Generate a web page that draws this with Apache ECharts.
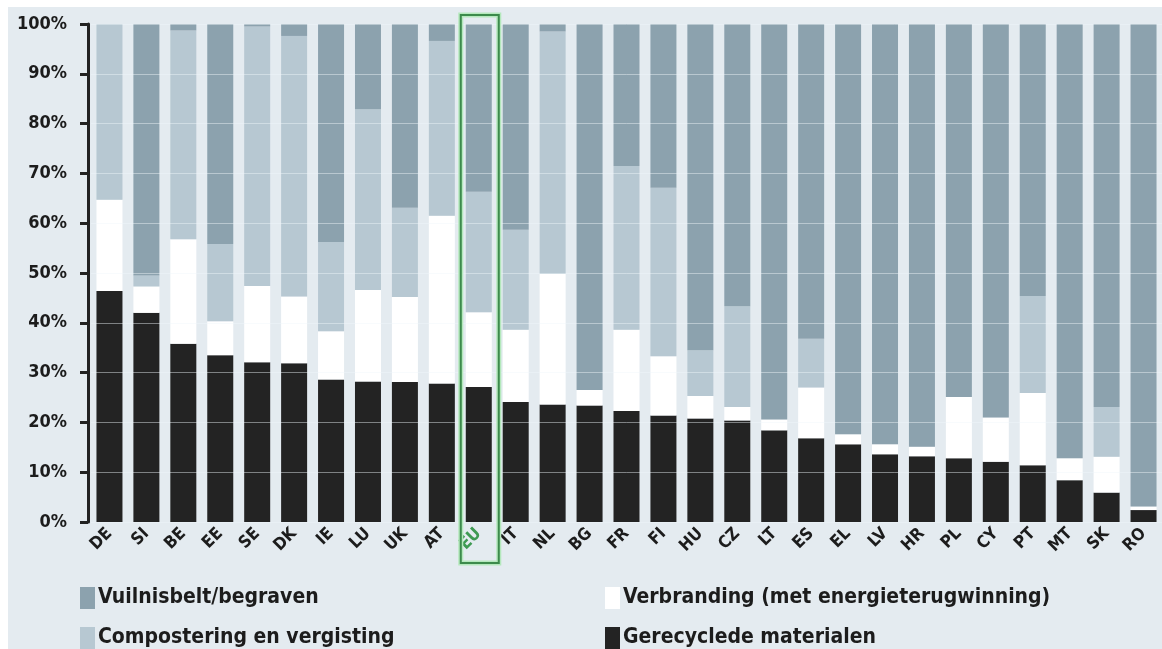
<!DOCTYPE html>
<html>
<head>
<meta charset="utf-8">
<script src="https://cdn.jsdelivr.net/npm/echarts@6/dist/echarts.min.js"></script>
<style>
html,body{margin:0;padding:0;background:#ffffff;}
#chart{width:1162px;height:649px;}
</style>
</head>
<body>
<div id="chart"></div>
<script>
const categories = ['DE','SI','BE','EE','SE','DK','IE','LU','UK','AT','EU','IT','NL','BG','FR','FI','HU','CZ','LT','ES','EL','LV','HR','PL','CY','PT','MT','SK','RO'];
const recycled     = [46.4,42.0,35.8,33.5,32.1,31.9,28.6,28.2,28.1,27.8,27.1,24.1,23.6,23.4,22.3,21.4,20.8,20.4,18.4,16.8,15.6,13.6,13.2,12.8,12.1,11.4,8.4,5.9,2.4];
const incineration = [18.3,5.3,21.0,6.8,15.3,13.4,9.7,18.4,17.1,33.7,15.0,14.5,26.2,3.1,16.3,11.9,4.5,2.7,2.2,10.2,2.0,2.0,1.9,12.3,8.9,14.5,4.4,7.2,0.7];
const compost      = [35.3,2.2,41.9,15.5,52.1,52.3,17.9,36.3,17.9,35.1,24.2,20.1,48.7,0,32.9,33.8,9.2,20.2,0,9.8,0,0,0,0,0,19.5,0,10.0,0];
const landfill     = [0,50.5,1.3,44.2,0.5,2.4,43.8,17.1,36.9,3.4,33.7,41.3,1.5,73.5,28.5,32.9,65.5,56.7,79.4,63.2,82.4,84.4,84.9,74.9,79.0,54.6,87.2,76.9,96.9];
const yTicks = [0,10,20,30,40,50,60,70,80,90,100];
const names = {
  landfill: 'Vuilnisbelt/begraven',
  incineration: 'Verbranding (met energieterugwinning)',
  compost: 'Compostering en vergisting',
  recycled: 'Gerecyclede materialen'
};
const colors = {landfill:'#8ca2ae', compost:'#b7c8d2', incineration:'#ffffff', recycled:'#232323'};
const highlight = 'EU';

const FONT = '"Liberation Sans Narrow","DejaVu Sans Condensed",sans-serif';
const chart = echarts.init(document.getElementById('chart'));

function bar(key, data){
  return {
    name: names[key], type:'bar', stack:'total', data:data,
    barWidth: 26, itemStyle:{color:colors[key]}, z:2
  };
}
function legendAt(key, left, top){
  return {
    data:[names[key]], left:left, top:top, padding:0, itemWidth:15, itemHeight:22, itemGap:0,
    icon:'rect', selectedMode:false,
    textStyle:{fontFamily:FONT, fontWeight:'bold', fontSize:21, color:'#1c1c1c', padding:[0,0,0,-2]}
  };
}

const bgRect = {type:'rect', shape:{x:8,y:7,width:1154,height:642}, style:{fill:'#e4ebf0'}, z:-10, silent:true};

const option = {
  animation:false,
  backgroundColor:'#ffffff',
  textStyle:{fontFamily:FONT},
  graphic:[bgRect],
  grid:{left:91, right:-6, top:24, bottom:127, containLabel:false},
  legend:[
    legendAt('landfill', 80, 587),
    legendAt('incineration', 605, 587),
    legendAt('compost', 80, 627),
    legendAt('recycled', 605, 627)
  ],
  xAxis:{
    type:'category', data:categories,
    axisLine:{show:false}, axisTick:{show:false},
    axisLabel:{
      rotate:45, margin:9, interval:0,
      fontFamily:FONT, fontWeight:'bold', fontSize:17,
      color:function(v){ return v===highlight ? '#3e9a52' : '#1c1c1c'; }
    }
  },
  yAxis:{
    type:'value', min:yTicks[0], max:yTicks[yTicks.length-1], interval:10,
    offset:3, z:10,
    axisLine:{show:true, lineStyle:{color:'#222222', width:3}},
    axisTick:{show:true, length:8, lineStyle:{color:'#222222', width:3}},
    axisLabel:{formatter:'{value}%', margin:21, fontFamily:FONT, fontWeight:'bold', fontSize:18, color:'#1c1c1c'},
    splitLine:{show:true, lineStyle:{color:'rgba(240,246,250,0.45)', width:1}}
  },
  series:[
    bar('recycled', recycled),
    bar('incineration', incineration),
    bar('compost', compost),
    bar('landfill', landfill)
  ]
};
chart.setOption(option);

// highlight frame around EU column
const cx = chart.convertToPixel({xAxisIndex:0}, highlight);
const yTop = chart.convertToPixel({yAxisIndex:0}, 100);
const yBot = chart.convertToPixel({yAxisIndex:0}, 0);
const fx = cx - 18, fy = yTop - 9, fw = 38, fh = (yBot + 41) - (yTop - 9);
chart.setOption({graphic:[
  bgRect,
  {type:'rect', shape:{x:fx, y:fy, width:fw, height:fh}, style:{fill:'none', stroke:'#b4e8bc', lineWidth:5}, z:20, silent:true},
  {type:'rect', shape:{x:fx, y:fy, width:fw, height:fh}, style:{fill:'none', stroke:'#3c8a4c', lineWidth:2}, z:21, silent:true}
]});
</script>
</body>
</html>
